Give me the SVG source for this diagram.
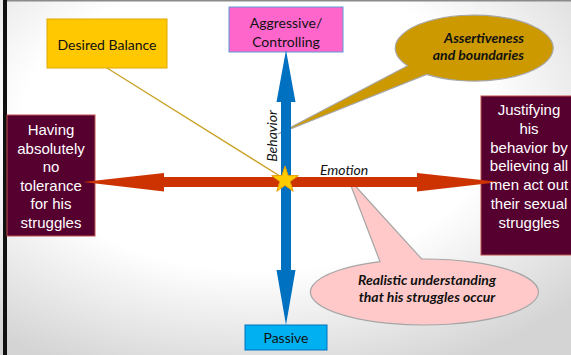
<svg xmlns="http://www.w3.org/2000/svg" width="571" height="355" viewBox="0 0 571 355">
<defs>
<radialGradient id="bg" cx="45%" cy="35%" r="75%">
<stop offset="0.55" stop-color="#ffffff"/>
<stop offset="1" stop-color="#d4d4d4"/>
</radialGradient>
</defs>
<style>
.maroon{fill:#560030;stroke:#C0504D;stroke-width:1}
.wtxt{font-family:"Liberation Sans",Arial,sans-serif;font-size:15px;fill:#ffffff;text-anchor:middle}
.btxt{font-family:Lato,"Liberation Sans",sans-serif;font-size:14px;fill:#111;text-anchor:middle}
.call{font-family:Lato,"Liberation Sans",sans-serif;font-size:14px;font-weight:bold;font-style:italic;fill:#111}
.axis{font-family:Lato,"Liberation Sans",sans-serif;font-size:14px;font-style:italic;fill:#111}
</style>
<rect x="0" y="0" width="571" height="355" fill="url(#bg)"/>
<rect x="7" y="0" width="564" height="1.5" fill="#8a8a8a"/>
<rect x="3" y="0" width="4" height="355" fill="#111"/>

<g id="desired-balance">
<rect x="47" y="19" width="120" height="49" fill="#FFC800" stroke="#E0A800" stroke-width="1"/>
<text class="btxt" x="107" y="50">Desired Balance</text>
</g>
<g id="aggressive">
<rect x="229" y="7" width="114" height="45" fill="#FF66CC" stroke="#5B9BD5" stroke-width="1"/>
<text class="btxt" x="286" y="28">Aggressive/</text>
<text class="btxt" x="286" y="47">Controlling</text>
</g>
<g id="passive">
<rect x="245" y="325" width="82" height="25" fill="#00B0F0" stroke="#0070C0" stroke-width="1"/>
<text class="btxt" x="286" y="343">Passive</text>
</g>
<g id="assertiveness">
<path d="M407.6 65.8 L278 134 L426.6 74.4 A79 33 0 1 0 407.6 65.8 Z" fill="#CC9900" stroke="#A6A6A6" stroke-width="1.2"/>
<text class="call" x="524" y="43" text-anchor="end">Assertiveness</text>
<text class="call" x="524" y="60" text-anchor="end">and boundaries</text>
</g>
<g id="realistic">
<path d="M380 261.6 L348 178 L421.7 259 A114 33 0 1 1 380 261.6 Z" fill="#FFC9C9" stroke="#A6A6A6" stroke-width="1.2"/>
<text class="call" x="427" y="285" text-anchor="middle">Realistic understanding</text>
<text class="call" x="427" y="302" text-anchor="middle">that his struggles occur</text>
</g>
<g id="no-tolerance">
<rect class="maroon" x="7" y="115" width="88" height="121"/>
</g>
<g id="justifying">
<rect class="maroon" x="481" y="96" width="92" height="159"/>
</g>

<g id="connectors">
<polygon points="83,182 164,173 164,177 417,177 417,173 500,182 417,191.5 417,187 164,187 164,191.5" fill="#CC3300"/>
<polygon points="286,50 295.5,102 291,102 291,270 295.5,270 286,325 276.5,270 281,270 281,102 276.5,102" fill="#0070C0"/>
<line x1="107" y1="68" x2="283" y2="178" stroke="#C9A227" stroke-width="1.3"/>
<polygon points="285,166 288.2,175.6 298.3,175.7 290.2,181.6 293.2,191.3 285,185.4 276.8,191.3 279.8,181.6 271.7,175.7 281.8,175.6" fill="#FFCC00" stroke="#E69A00" stroke-width="1"/>
</g>

<g id="labels">
<text class="axis" x="320" y="175">Emotion</text>
<text class="axis" transform="translate(277,136) rotate(-90)" text-anchor="middle">Behavior</text>
<g id="no-tolerance-label" class="wtxt">
<text x="51" y="135">Having</text>
<text x="51" y="153.6">absolutely</text>
<text x="51" y="172.2">no</text>
<text x="51" y="190.8">tolerance</text>
<text x="51" y="209.4">for his</text>
<text x="51" y="228">struggles</text>
</g>
<g id="justifying-label" class="wtxt">
<text x="529" y="115">Justifying</text>
<text x="529" y="133.8">his</text>
<text x="529" y="152.6">behavior by</text>
<text x="529" y="171.4">believing all</text>
<text x="529" y="190.2">men act out</text>
<text x="529" y="209">their sexual</text>
<text x="529" y="227.8">struggles</text>
</g>
</g>
</svg>
